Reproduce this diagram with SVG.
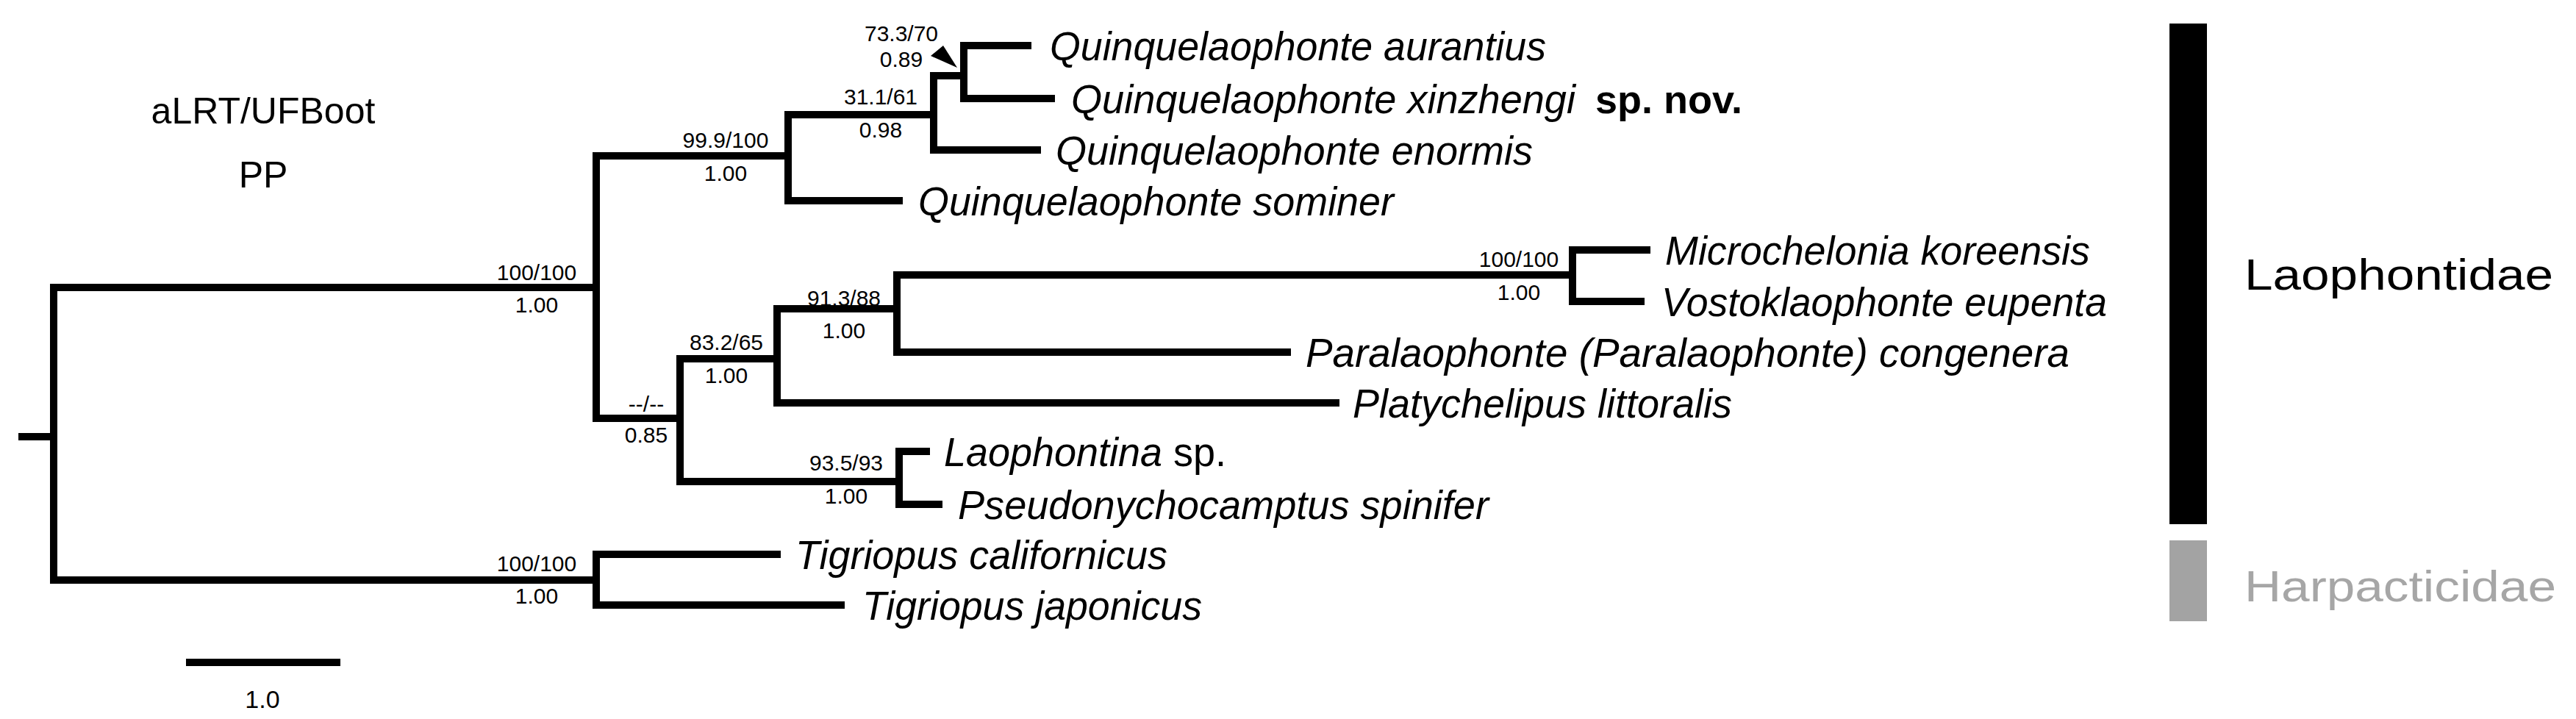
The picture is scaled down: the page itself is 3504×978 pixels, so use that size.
<svg xmlns="http://www.w3.org/2000/svg" width="3504" height="978" viewBox="0 0 3504 978">
<style>
.e{stroke:#000;stroke-width:10;fill:none;stroke-linecap:square}
.t{font-family:"Liberation Sans",Arial,sans-serif;font-style:italic;font-size:56px}
.s{font-family:"Liberation Sans",Arial,sans-serif;font-size:30px;text-anchor:middle}
.h{font-family:"Liberation Sans",Arial,sans-serif;font-size:50px;text-anchor:middle}
</style>
<rect width="3504" height="978" fill="#fff"/>
<g id="connectors" class="e">
<path d="M30 594H73M73 391V789M73 391H811M73 789H811"/>
<path d="M811 212V569M811 212H1072M1072 156V273M1072 156H1270M1072 273H1223"/>
<path d="M1270 103V204M1270 103H1311M1270 204H1411M1311 62V134M1311 62H1398M1311 134H1430"/>
<path d="M811 569H925M925 488V655M925 488H1057M1057 420V548M1057 420H1220M1057 548H1817"/>
<path d="M1220 374V479M1220 374H2139M1220 479H1751M2139 340V410M2139 340H2240M2139 410H2232"/>
<path d="M925 655H1223M1223 614V686M1223 614H1260M1223 686H1277"/>
<path d="M811 754V823M811 754H1057M811 823H1144"/>
<path d="M258 901H458"/>
<polygon points="1302,92 1266,76 1283,62" fill="#000" stroke="none"/>
</g>
<g id="leaves">
<text class="t" x="1428" y="82" textLength="675" lengthAdjust="spacingAndGlyphs">Quinquelaophonte aurantius</text>
<text class="t" x="1457" y="154" textLength="686" lengthAdjust="spacingAndGlyphs">Quinquelaophonte xinzhengi</text>
<text x="2170" y="154" font-family="Liberation Sans,Arial,sans-serif" font-weight="bold" font-size="54" textLength="200" lengthAdjust="spacingAndGlyphs">sp. nov.</text>
<text class="t" x="1436" y="224" textLength="649" lengthAdjust="spacingAndGlyphs">Quinquelaophonte enormis</text>
<text class="t" x="1249" y="293" textLength="647" lengthAdjust="spacingAndGlyphs">Quinquelaophonte sominer</text>
<text class="t" x="2265" y="360" textLength="578" lengthAdjust="spacingAndGlyphs">Microchelonia koreensis</text>
<text class="t" x="2260" y="430" textLength="606" lengthAdjust="spacingAndGlyphs">Vostoklaophonte eupenta</text>
<text class="t" x="1776" y="499" textLength="1039" lengthAdjust="spacingAndGlyphs">Paralaophonte (Paralaophonte) congenera</text>
<text class="t" x="1840" y="568" textLength="516" lengthAdjust="spacingAndGlyphs">Platychelipus littoralis</text>
<text class="t" x="1284" y="634" textLength="384" lengthAdjust="spacingAndGlyphs">Laophontina <tspan font-style="normal">sp.</tspan></text>
<text class="t" x="1303" y="706" textLength="722" lengthAdjust="spacingAndGlyphs">Pseudonychocamptus spinifer</text>
<text class="t" x="1082" y="774" textLength="506" lengthAdjust="spacingAndGlyphs">Tigriopus californicus</text>
<text class="t" x="1173" y="843" textLength="462" lengthAdjust="spacingAndGlyphs">Tigriopus japonicus</text>
</g>
<g id="support">
<text class="s" x="730" y="381">100/100</text><text class="s" x="730" y="425">1.00</text>
<text class="s" x="987" y="201">99.9/100</text><text class="s" x="987" y="246">1.00</text>
<text class="s" x="1198" y="142">31.1/61</text><text class="s" x="1198" y="187">0.98</text>
<text class="s" x="1226" y="56">73.3/70</text><text class="s" x="1226" y="91">0.89</text>
<text class="s" x="1148" y="416">91.3/88</text><text class="s" x="1148" y="460">1.00</text>
<text class="s" x="988" y="476">83.2/65</text><text class="s" x="988" y="521">1.00</text>
<text class="s" x="879" y="560">--/--</text><text class="s" x="879" y="602">0.85</text>
<text class="s" x="1151" y="640">93.5/93</text><text class="s" x="1151" y="685">1.00</text>
<text class="s" x="730" y="777">100/100</text><text class="s" x="730" y="821">1.00</text>
<text class="s" x="2066" y="363">100/100</text><text class="s" x="2066" y="408">1.00</text>
</g>
<g id="legend">
<text class="h" x="358" y="168">aLRT/UFBoot</text>
<text class="h" x="358" y="255">PP</text>
<text class="s" x="357" y="963" style="font-size:34px">1.0</text>
</g>
<g id="families">
<rect x="2951" y="32" width="51" height="681" fill="#000"/>
<rect x="2951" y="735" width="51" height="110" fill="#a3a3a3"/>
<text x="3053" y="394" font-family="Liberation Sans,Arial,sans-serif" font-size="60" textLength="420" lengthAdjust="spacingAndGlyphs">Laophontidae</text>
<text x="3053" y="818" font-family="Liberation Sans,Arial,sans-serif" font-size="60" fill="#a6a6a6" textLength="424" lengthAdjust="spacingAndGlyphs">Harpacticidae</text>
</g>
</svg>
